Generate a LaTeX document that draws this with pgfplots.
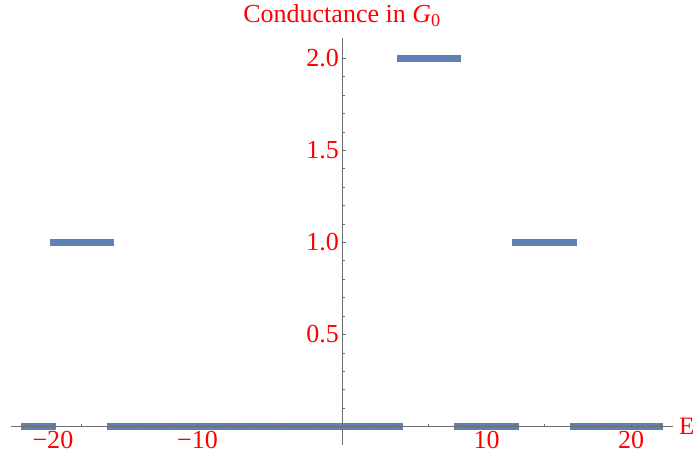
\documentclass[border=0pt]{standalone}
\usepackage{fontspec}
\setmainfont{Liberation Serif}
\usepackage{pgfplots}
\pgfplotsset{compat=1.18}
\definecolor{mmablue}{RGB}{94,129,181}
\definecolor{axgray}{RGB}{110,110,110}
\begin{document}
\fontsize{26}{31}\selectfont
\begin{tikzpicture}[x=1pt,y=1pt]
\useasboundingbox (-11,-9) rectangle (684,445);
\begin{axis}[
  at={(0,0)}, anchor=south west,
  scale only axis, width=662pt, height=407pt,
  axis lines=middle,
  axis line style={-, axgray, line width=0.9pt},
  axis on top,
  clip=false,
  xmin=-22.9, xmax=22.9, ymin=-0.1, ymax=2.11,
  xtick={-20,-10,10,20},
  xticklabels={−20,−10,10,20},
  minor xtick={-22,-18,-16,-14,-12,-8,-6,-4,-2,2,4,6,8,12,14,16,18,22},
  ytick={0.5,1,1.5,2},
  yticklabels={0.5,1.0,1.5,2.0},
  minor ytick={0.1,0.2,0.3,0.4,0.6,0.7,0.8,0.9,1.1,1.2,1.3,1.4,1.6,1.7,1.8,1.9},
  tick align=inside,
  major tick length=4pt, minor tick length=2.5pt,
  tick style={axgray, line width=0.8pt},
  ticklabel style={text=red, font=\fontsize{26}{31}\selectfont, inner sep=2pt},
  xticklabel style={yshift=-2pt},
  yticklabel style={xshift=-1pt},
  /pgf/number format/assume math mode=true,
  xlabel={E},
  ylabel={Conductance in \textit{G}\textsubscript{0}},
  xlabel style={at={(rel axis cs:1,0.04525)}, anchor=west, text=red, inner sep=0pt, xshift=6pt, font=\fontsize{25}{30}\selectfont},
  ylabel style={at={(rel axis cs:0.5,1)}, anchor=base, text=red, yshift=15pt, font=\fontsize{26}{31}\selectfont},
]
\addplot[mmablue, line width=6.5pt, line cap=rect] coordinates {(-22,0) (-20,0)};
\addplot[mmablue, line width=6.5pt, line cap=rect] coordinates {(-20,1) (-16,1)};
\addplot[mmablue, line width=6.5pt, line cap=rect] coordinates {(-16,0) (4,0)};
\addplot[mmablue, line width=6.5pt, line cap=rect] coordinates {(4,2) (8,2)};
\addplot[mmablue, line width=6.5pt, line cap=rect] coordinates {(8,0) (12,0)};
\addplot[mmablue, line width=6.5pt, line cap=rect] coordinates {(12,1) (16,1)};
\addplot[mmablue, line width=6.5pt, line cap=rect] coordinates {(16,0) (22,0)};
\end{axis}
\end{tikzpicture}
\end{document}
